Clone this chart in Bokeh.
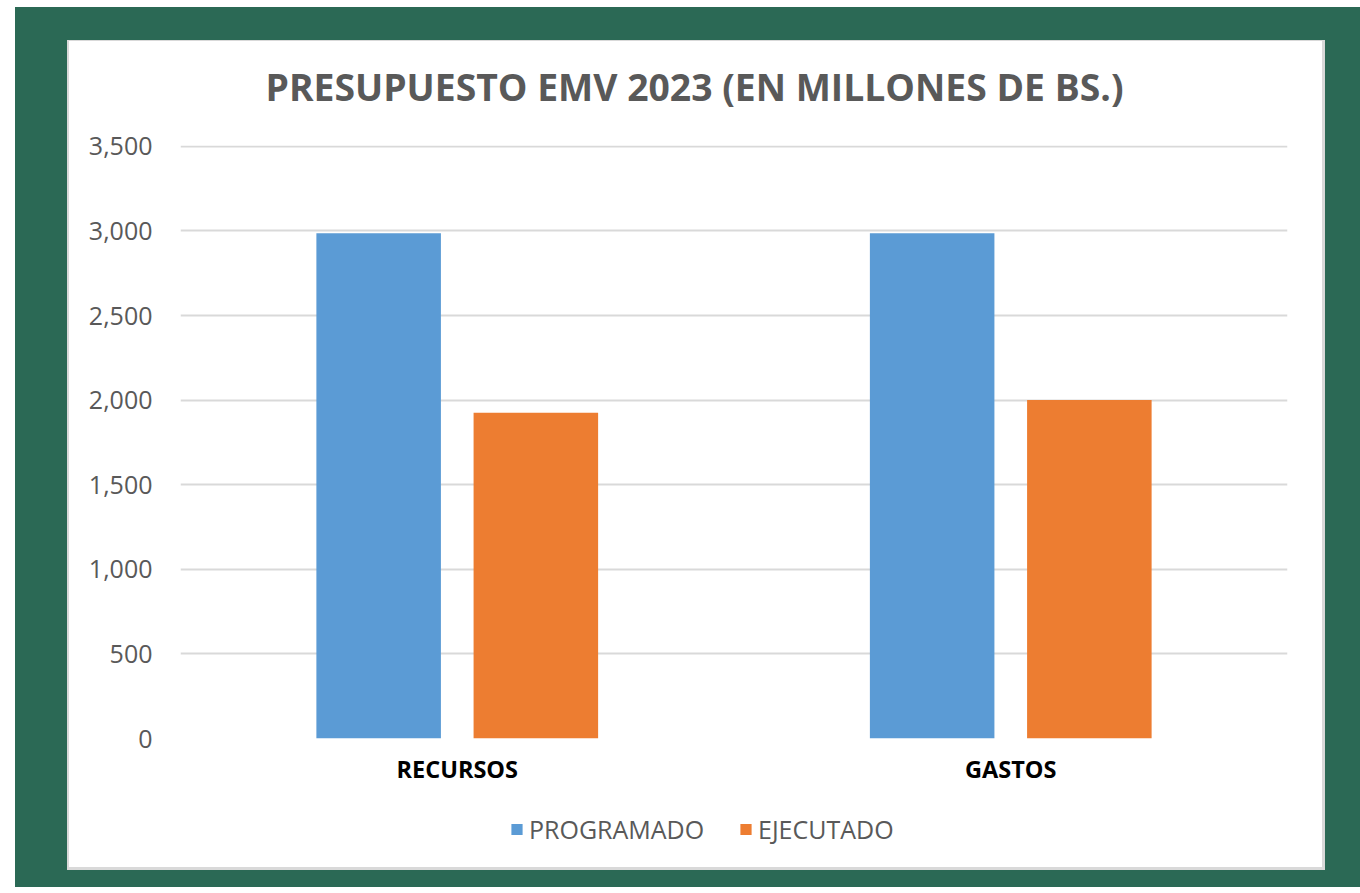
from bokeh.plotting import figure
from bokeh.models import (FactorRange, Range1d, FixedTicker, NumeralTickFormatter,
                          Legend, LegendItem, Column, Title, ColumnDataSource)
from bokeh.transform import dodge
from bokeh.embed import file_html
from bokeh.resources import INLINE

categories = ["RECURSOS", "GASTOS"]
programado = [2987, 2987]
ejecutado = [1926, 2001]
y_ticks = [0, 500, 1000, 1500, 2000, 2500, 3000, 3500]
title_text = "PRESUPUESTO EMV 2023 (EN MILLONES DE BS.)"
series_names = ["PROGRAMADO", "EJECUTADO"]

BLUE = "#5b9bd5"
ORANGE = "#ed7d31"
GREY_TXT = "#595959"
FONT = "Open Sans"


def clean(fig):
    fig.background_fill_alpha = 0
    fig.border_fill_alpha = 0
    fig.outline_line_color = None


# ---------------- title strip ----------------
p0 = figure(width=1253, height=70, output_backend="svg", toolbar_location=None,
            x_axis_type=None, y_axis_type=None, min_border=0, title_location="below",
            x_range=Range1d(0, 1), y_range=Range1d(0, 1))
p0.title = Title(text=title_text, align="left", offset=85, standoff=0,
                 text_font=FONT, text_font_size="37.3px", text_font_style="bold",
                 text_color=GREY_TXT)
p0.grid.grid_line_color = None
clean(p0)

# ---------------- main chart ----------------
source = ColumnDataSource(dict(cat=categories, prog=programado, ejec=ejecutado))

p = figure(x_range=FactorRange(*categories, range_padding=0),
           y_range=Range1d(0, 3505), title_location=None,
           width=1253, height=680, output_backend="svg", toolbar_location=None,
           min_border_left=111, min_border_right=35, min_border_top=34, min_border_bottom=53)
clean(p)

r1 = p.vbar(x=dodge("cat", -0.142, range=p.x_range), top="prog", width=0.225,
            source=source, fill_color=BLUE, line_color=None)
r2 = p.vbar(x=dodge("cat", 0.142, range=p.x_range), top="ejec", width=0.225,
            source=source, fill_color=ORANGE, line_color=None)

p.xgrid.grid_line_color = None
p.ygrid.grid_line_color = "#d9d9d9"
p.ygrid.grid_line_width = 2

p.yaxis.ticker = FixedTicker(ticks=y_ticks)
p.yaxis.formatter = NumeralTickFormatter(format="0,0")
p.yaxis.axis_line_color = None
p.yaxis.major_tick_line_color = None
p.yaxis.minor_tick_line_color = None
p.yaxis.major_tick_out = 0
p.yaxis.major_label_standoff = 28
p.yaxis.major_label_text_font = FONT
p.yaxis.major_label_text_font_size = "25px"
p.yaxis.major_label_text_color = GREY_TXT

p.xaxis.axis_line_color = None
p.xaxis.major_tick_line_color = None
p.xaxis.minor_tick_line_color = None
p.xaxis.major_tick_out = 0
p.xaxis.major_label_standoff = 14
p.xaxis.major_label_text_font = FONT
p.xaxis.major_label_text_font_size = "23.5px"
p.xaxis.major_label_text_font_style = "bold"
p.xaxis.major_label_text_color = "black"

# ---------------- legend strip ----------------
p2 = figure(width=1253, height=76, output_backend="svg", toolbar_location=None,
            x_axis_type=None, y_axis_type=None, min_border=0, title_location=None,
            x_range=FactorRange(*categories), y_range=Range1d(-2, -1))
p2.grid.grid_line_color = None
clean(p2)
# legend swatches: same series as zero-size bars outside this strip's visible range
l1 = p2.vbar(x="cat", top="prog", bottom="prog", width=0, source=source,
             fill_color=BLUE, line_color=None)
l2 = p2.vbar(x="cat", top="ejec", bottom="ejec", width=0, source=source,
             fill_color=ORANGE, line_color=None)

legend = Legend(items=[LegendItem(label=series_names[0], renderers=[l1]),
                       LegendItem(label=series_names[1], renderers=[l2])],
                orientation="horizontal", location="center",
                glyph_width=14, glyph_height=14, label_standoff=6, spacing=9,
                label_width=200,
                padding=0, margin=0, border_line_color=None, background_fill_alpha=0,
                label_text_font=FONT, label_text_font_size="25px",
                label_text_color=GREY_TXT)
p2.add_layout(legend, "center")

white = Column(p0, p, p2, spacing=0, styles={"background-color": "white"})
white.margin = (1, 3, 3, 2)
grey = Column(white, styles={"background-color": "#d9d9d9"})
grey.margin = (33, 35, 17, 52)
outer = Column(grey, styles={"background-color": "#2b6955"})
outer.margin = (7, 0, 0, 15)

open("out.html", "w").write(file_html(outer, INLINE))
